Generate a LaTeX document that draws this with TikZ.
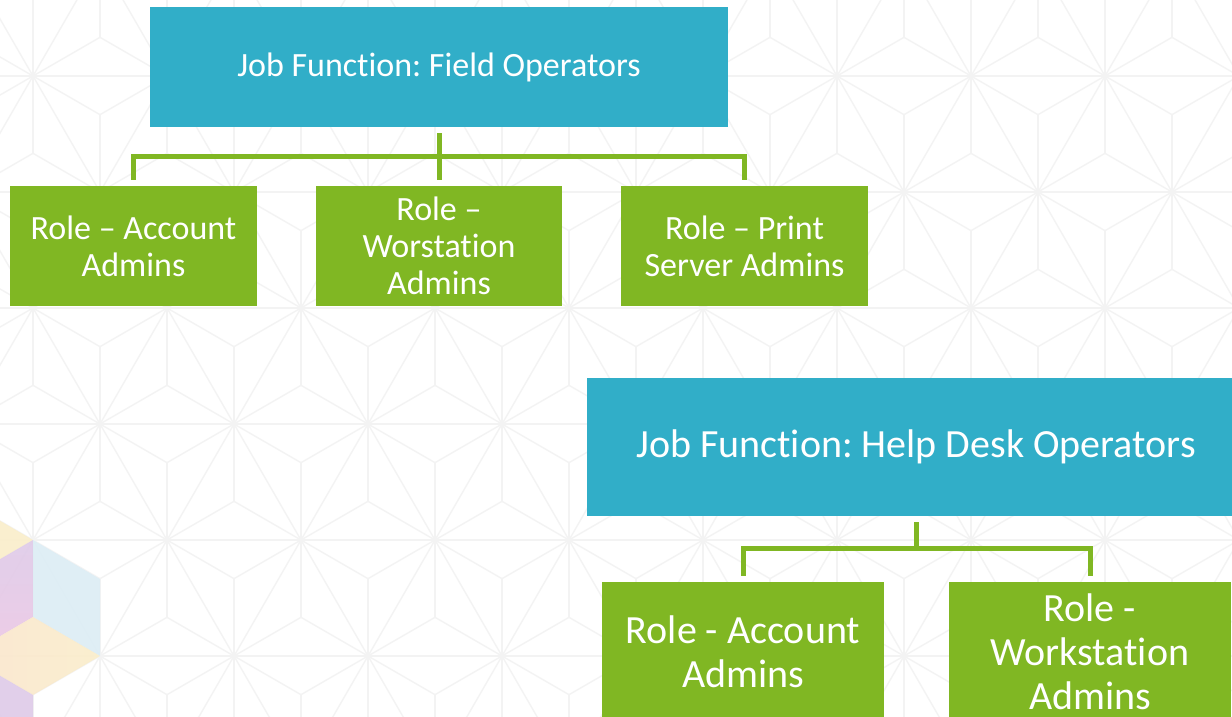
\documentclass[tikz,border=0pt]{standalone}
\usepackage{fontspec}
\setmainfont{Carlito}[Ligatures={TeX,NoCommon}]
\frenchspacing

\definecolor{jobblue}{RGB}{49,174,200}
\definecolor{rolegreen}{RGB}{128,183,35}
\definecolor{bgline}{RGB}{243,243,243}
\definecolor{cubeyellow}{RGB}{250,238,202}
\definecolor{cubelilac}{RGB}{222,202,232}
\definecolor{cubepink}{RGB}{236,198,228}
\definecolor{cubeblue}{RGB}{220,237,245}
\definecolor{cubepeach}{RGB}{250,228,206}

\tikzset{
  jobbox/.style={rectangle, fill=jobblue, text=white, inner sep=0pt, align=center},
  rolebox/.style={rectangle, fill=rolegreen, text=white, inner sep=0pt, align=center},
  link/.style={draw=rolegreen, line width=5pt},
  gridline/.style={draw=bgline, line width=1.4pt}
}

\begin{document}
\begin{tikzpicture}[x=1pt, y=-1pt]
\useasboundingbox (0,0) rectangle (1232,717);
\clip (0,0) rectangle (1232,717);
\fill[white] (0,0) rectangle (1232,717);

% background pattern
\foreach \j in {-5,...,2}{
  \foreach \i in {-1,...,9}{
    \pgfmathsetmacro\px{33+134*\i+67*mod(\j+10,2)}
    \pgfmathsetmacro\py{540+116*\j}
    \foreach \a in {30,90,...,330} \draw[gridline] (\px,\py) -- ++(\a:77.4);
    \foreach \a in {0,60,120} \draw[gridline] (\px,\py) -- ++(\a:134);
  }
}

% cube in the corner
\fill[cubeyellow, fill opacity=0.9] (33,540) -- (-34,579) -- (-101,540) -- (-34,501) -- cycle;
\shade[top color=cubelilac, bottom color=cubepink, opacity=0.9] (33,540) -- (33,617) -- (-34,656) -- (-34,579) -- cycle;
\fill[cubeblue, fill opacity=0.9] (33,540) -- (100,579) -- (100,656) -- (33,617) -- cycle;
\shade[left color=cubepeach, right color=cubeyellow, opacity=0.9] (33,617) -- (100,656) -- (33,695) -- (-34,656) -- cycle;
\fill[cubelilac, fill opacity=0.9] (33,695) -- (-34,656) -- (-34,733) -- (33,772) -- cycle;

% first group
\node[jobbox, minimum width=578pt, minimum height=120pt, font=\fontsize{34}{40}\selectfont] (field) at (439,67) {Job Function: Field Operators};
\node[rolebox, minimum width=247pt, minimum height=120pt, font=\fontsize{34}{37}\selectfont] (acct) at (133.5,246) {Role – Account\\Admins};
\node[rolebox, minimum width=246pt, minimum height=120pt, font=\fontsize{34}{37}\selectfont] (wkst) at (439,246) {Role –\\Worstation\\Admins};
\node[rolebox, minimum width=247pt, minimum height=120pt, font=\fontsize{34}{37}\selectfont] (prnt) at (744.5,246) {Role – Print\\Server Admins};
\draw[link] ([yshift=-6pt]field.south) -- ([yshift=6pt]wkst.north);
\draw[link] ([yshift=6pt]acct.north) -- ++(0,-23) -| ([yshift=6pt]prnt.north);

% second group
\node[jobbox, minimum width=658pt, minimum height=138pt, font=\fontsize{40}{46}\selectfont] (help) at (916,447) {Job Function: Help Desk Operators};
\node[rolebox, minimum width=282pt, minimum height=140pt, font=\fontsize{40}{44}\selectfont] (acctb) at (743,652) {Role - Account\\Admins};
\node[rolebox, minimum width=282pt, minimum height=140pt, font=\fontsize{40}{44}\selectfont] (wkstb) at (1090,652) {Role -\\Workstation\\Admins};
\draw[link] ([yshift=-6pt]help.south) -- ++(0,27);
\draw[link] ([yshift=6pt]acctb.north) -- ++(0,-27) -| ([yshift=6pt]wkstb.north);
\end{tikzpicture}
\end{document}
